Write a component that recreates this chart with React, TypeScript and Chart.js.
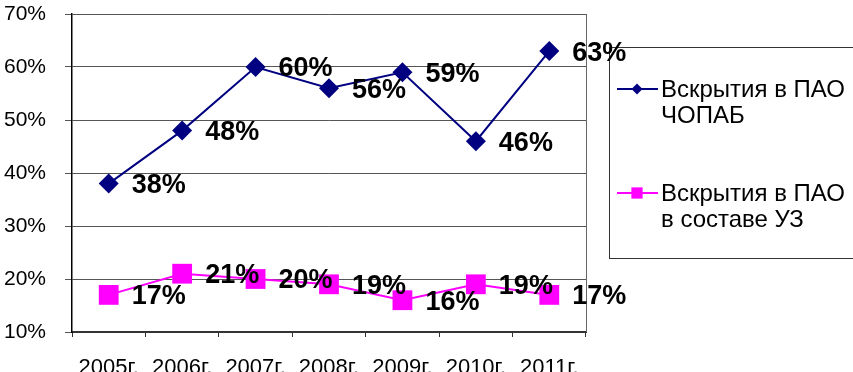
import React, { useEffect, useRef } from "react";
import { Chart, registerables } from "chart.js";

Chart.register(...registerables);

const categories = ["2005г.", "2006г.", "2007г.", "2008г.", "2009г.", "2010г.", "2011г."];
const seriesChopab = [38, 48, 60, 56, 59, 46, 63];
const seriesUz = [17, 21, 20, 19, 16, 19, 17];
const legendChopab = ["Вскрытия в ПАО", "ЧОПАБ"];
const legendUz = ["Вскрытия в ПАО", "в составе УЗ"];
const yMin = 10;
const yMax = 70;
const yStep = 10;

const FONT = "'Liberation Sans', Arial, sans-serif";
const BLUE = "#000080";
const MAGENTA = "#FF00FF";

const labelsPlugin = {
  id: "valueLabels",
  afterDatasetsDraw(chart: any) {
    const ctx = chart.ctx;
    ctx.save();
    ctx.font = `bold 27px ${FONT}`;
    ctx.fillStyle = "#000";
    ctx.textAlign = "left";
    ctx.textBaseline = "middle";
    chart.data.datasets.forEach((ds: any, i: number) => {
      const meta = chart.getDatasetMeta(i);
      meta.data.forEach((pt: any, j: number) => {
        ctx.fillText(`${ds.data[j]}%`, pt.x + 23, pt.y + 2);
      });
    });
    ctx.restore();
  },
};

const framePlugin = {
  id: "frameAndLegend",
  beforeDatasetsDraw(chart: any) {
    const ctx = chart.ctx;
    const a = chart.chartArea;
    ctx.save();
    // right border of plot area
    ctx.strokeStyle = "#666";
    ctx.lineWidth = 1;
    ctx.beginPath();
    ctx.moveTo(Math.round(a.right) + 0.5, a.top);
    ctx.lineTo(Math.round(a.right) + 0.5, a.bottom);
    ctx.stroke();

    // legend box
    const bx = 609.5;
    const by = 47.5;
    const bw = 300;
    const bh = 211;
    ctx.strokeStyle = "#333";
    ctx.lineWidth = 1;
    ctx.strokeRect(bx, by, bw, bh);

    const items = [
      { lines: legendChopab, color: BLUE, style: "rectRot", r: 5.5, y: 89 },
      { lines: legendUz, color: MAGENTA, style: "rect", r: 7.5, y: 193 },
    ];
    ctx.font = `24px ${FONT}`;
    ctx.textAlign = "left";
    ctx.textBaseline = "alphabetic";
    items.forEach((it) => {
      ctx.strokeStyle = it.color;
      ctx.lineWidth = 2;
      ctx.beginPath();
      ctx.moveTo(617, it.y);
      ctx.lineTo(658, it.y);
      ctx.stroke();
      ctx.fillStyle = it.color;
      ctx.beginPath();
      if (it.style === "rectRot") {
        ctx.moveTo(637 - it.r, it.y);
        ctx.lineTo(637, it.y - it.r);
        ctx.lineTo(637 + it.r, it.y);
        ctx.lineTo(637, it.y + it.r);
        ctx.closePath();
      } else {
        const s = it.r * 0.75;
        ctx.rect(637 - s, it.y - s, 2 * s, 2 * s);
      }
      ctx.fill();
      ctx.fillStyle = "#000";
      it.lines.forEach((t, k) => {
        ctx.fillText(t, 661, it.y + 8 + k * 25.5);
      });
    });
    ctx.restore();
  },
};

export default function App() {
  const ref = useRef<HTMLCanvasElement | null>(null);

  useEffect(() => {
    if (!ref.current) return;
    const chart = new Chart(ref.current, {
      type: "line",
      data: {
        labels: categories,
        datasets: [
          {
            label: legendChopab.join(" "),
            data: seriesChopab,
            borderColor: BLUE,
            backgroundColor: BLUE,
            borderWidth: 2,
            pointStyle: "rectRot",
            pointRadius: 10,
            pointBorderWidth: 0,
            pointBackgroundColor: BLUE,
            tension: 0,
          },
          {
            label: legendUz.join(" "),
            data: seriesUz,
            borderColor: MAGENTA,
            backgroundColor: MAGENTA,
            borderWidth: 2,
            pointStyle: "rect",
            pointRadius: 14,
            pointBorderWidth: 0,
            pointBackgroundColor: MAGENTA,
            tension: 0,
          },
        ],
      },
      options: {
        animation: false,
        responsive: true,
        maintainAspectRatio: false,
        layout: { padding: { top: 10, right: 267, left: 0, bottom: 0 } },
        plugins: {
          legend: { display: false },
          tooltip: { enabled: false },
        },
        scales: {
          x: {
            offset: true,
            grid: {
              offset: true,
              drawOnChartArea: false,
              drawTicks: true,
              tickLength: 5,
              color: "#333",
              lineWidth: 1,
            },
            border: { color: "#333", width: 2 },
            ticks: {
              color: "#000",
              font: { family: FONT, size: 22 },
              padding: 18,
              maxRotation: 0,
              autoSkip: false,
            },
            afterFit(scale: any) {
              scale.height = 40;
              scale.paddingLeft = 0;
              scale.paddingRight = 0;
            },
          },
          y: {
            min: yMin,
            max: yMax,
            grid: {
              color: "#555",
              lineWidth: 1,
              tickLength: 7,
            },
            border: { color: "#000", width: 1.5 },
            ticks: {
              stepSize: yStep,
              color: "#000",
              font: { family: FONT, size: 21 },
              padding: 19,
              callback: (v: any) => `${v}%`,
            },
            afterFit(scale: any) {
              scale.width = 72;
              scale.paddingTop = 0;
              scale.paddingBottom = 0;
            },
          },
        },
      },
      plugins: [framePlugin, labelsPlugin],
    });
    return () => chart.destroy();
  }, []);

  return (
    <div style={{ position: "fixed", left: 0, top: 0, width: 853, height: 372, background: "#fff" }}>
      <canvas ref={ref} />
    </div>
  );
}
